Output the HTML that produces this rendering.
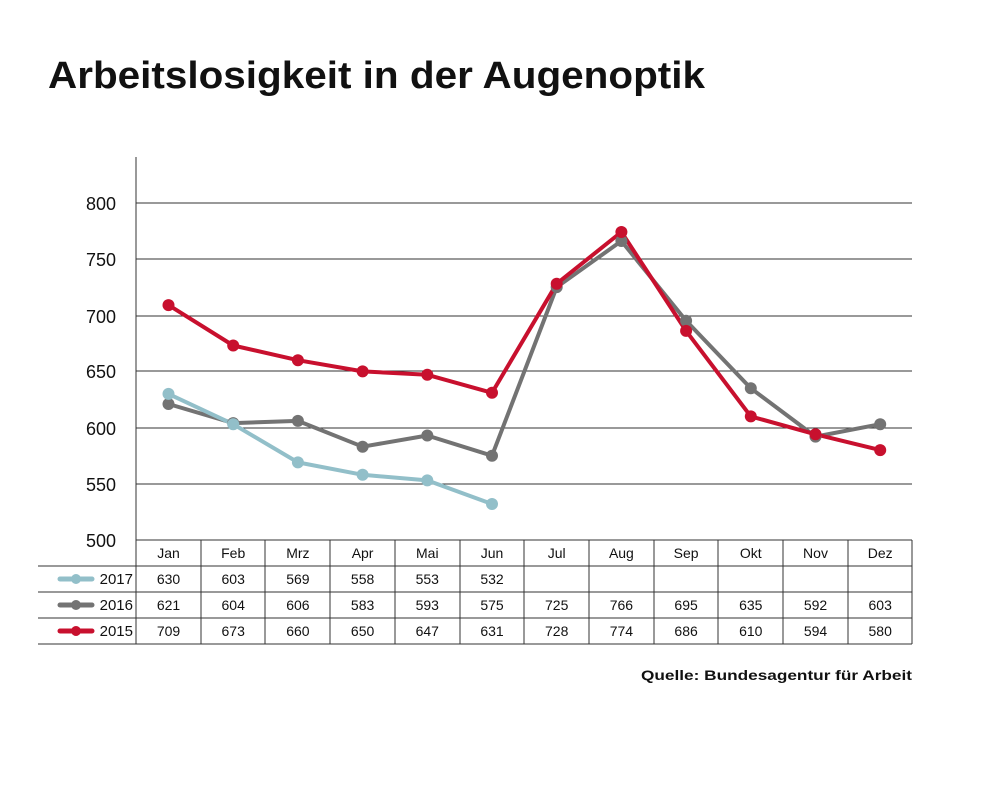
<!DOCTYPE html>
<html><head><meta charset="utf-8"><style>
body{margin:0;background:#fff;width:992px;height:794px;overflow:hidden}
svg{font-family:"Liberation Sans",sans-serif}
</style></head><body>
<svg width="992" height="794" viewBox="0 0 992 794">
<text x="48" y="88" font-size="38" font-weight="bold" fill="#111" textLength="657" lengthAdjust="spacingAndGlyphs">Arbeitslosigkeit in der Augenoptik</text>
<g stroke="#333" stroke-width="1">
<line x1="136" y1="203" x2="912" y2="203"/><line x1="136" y1="259" x2="912" y2="259"/>
<line x1="136" y1="316" x2="912" y2="316"/><line x1="136" y1="371" x2="912" y2="371"/>
<line x1="136" y1="428" x2="912" y2="428"/><line x1="136" y1="484" x2="912" y2="484"/>
<line x1="136" y1="540" x2="912" y2="540"/>
<line x1="38" y1="566" x2="912" y2="566"/><line x1="38" y1="592" x2="912" y2="592"/>
<line x1="38" y1="618" x2="912" y2="618"/><line x1="38" y1="644" x2="912" y2="644"/>
<line x1="136" y1="157" x2="136" y2="644"/>
<line x1="201" y1="540" x2="201" y2="644"/><line x1="265" y1="540" x2="265" y2="644"/>
<line x1="330" y1="540" x2="330" y2="644"/><line x1="395" y1="540" x2="395" y2="644"/>
<line x1="460" y1="540" x2="460" y2="644"/><line x1="524" y1="540" x2="524" y2="644"/>
<line x1="589" y1="540" x2="589" y2="644"/><line x1="654" y1="540" x2="654" y2="644"/>
<line x1="718" y1="540" x2="718" y2="644"/><line x1="783" y1="540" x2="783" y2="644"/>
<line x1="848" y1="540" x2="848" y2="644"/><line x1="912" y1="540" x2="912" y2="644"/>
</g>
<g font-size="18" fill="#111" text-anchor="end">
<text x="116" y="210">800</text><text x="116" y="266">750</text><text x="116" y="323">700</text>
<text x="116" y="378">650</text><text x="116" y="435">600</text><text x="116" y="491">550</text>
<text x="116" y="547">500</text>
</g>
<g font-size="14" fill="#111" text-anchor="middle">
<text x="168.5" y="558">Jan</text><text x="233.2" y="558">Feb</text><text x="297.9" y="558">Mrz</text>
<text x="362.6" y="558">Apr</text><text x="427.3" y="558">Mai</text><text x="492" y="558">Jun</text>
<text x="556.7" y="558">Jul</text><text x="621.4" y="558">Aug</text><text x="686.1" y="558">Sep</text>
<text x="750.8" y="558">Okt</text><text x="815.5" y="558">Nov</text><text x="880.2" y="558">Dez</text>
<text x="168.5" y="584">630</text><text x="233.2" y="584">603</text><text x="297.9" y="584">569</text>
<text x="362.6" y="584">558</text><text x="427.3" y="584">553</text><text x="492" y="584">532</text>
<text x="168.5" y="610">621</text><text x="233.2" y="610">604</text><text x="297.9" y="610">606</text>
<text x="362.6" y="610">583</text><text x="427.3" y="610">593</text><text x="492" y="610">575</text>
<text x="556.7" y="610">725</text><text x="621.4" y="610">766</text><text x="686.1" y="610">695</text>
<text x="750.8" y="610">635</text><text x="815.5" y="610">592</text><text x="880.2" y="610">603</text>
<text x="168.5" y="636">709</text><text x="233.2" y="636">673</text><text x="297.9" y="636">660</text>
<text x="362.6" y="636">650</text><text x="427.3" y="636">647</text><text x="492" y="636">631</text>
<text x="556.7" y="636">728</text><text x="621.4" y="636">774</text><text x="686.1" y="636">686</text>
<text x="750.8" y="636">610</text><text x="815.5" y="636">594</text><text x="880.2" y="636">580</text>
</g>
<g font-size="15" fill="#111" text-anchor="end">
<text x="133" y="584">2017</text><text x="133" y="610">2016</text><text x="133" y="636">2015</text>
</g>
<g stroke-width="5" stroke-linecap="round">
<line x1="60" y1="579" x2="92" y2="579" stroke="#92bfc9"/><circle cx="76" cy="579" r="5" fill="#92bfc9"/>
<line x1="60" y1="605" x2="92" y2="605" stroke="#737373"/><circle cx="76" cy="605" r="5" fill="#737373"/>
<line x1="60" y1="631" x2="92" y2="631" stroke="#c8102e"/><circle cx="76" cy="631" r="5" fill="#c8102e"/>
</g>
<g fill="none" stroke-width="4" stroke-linejoin="round">
<polyline stroke="#737373" points="168.5,404 233.2,423.1 297.9,420.9 362.6,446.7 427.3,435.5 492,455.7 556.7,287.1 621.4,241 686.1,320.8 750.8,388.3 815.5,436.6 880.2,424.2"/>
<polyline stroke="#c8102e" points="168.5,305.1 233.2,345.5 297.9,360.2 362.6,371.4 427.3,374.8 492,392.8 556.7,283.7 621.4,232 686.1,330.9 750.8,416.4 815.5,434.3 880.2,450.1"/>
<polyline stroke="#92bfc9" points="168.5,393.9 233.2,424.2 297.9,462.4 362.6,474.8 427.3,480.4 492,504"/>
</g>
<g fill="#737373">
<circle cx="168.5" cy="404" r="6"/><circle cx="233.2" cy="423.1" r="6"/><circle cx="297.9" cy="420.9" r="6"/><circle cx="362.6" cy="446.7" r="6"/><circle cx="427.3" cy="435.5" r="6"/><circle cx="492" cy="455.7" r="6"/><circle cx="556.7" cy="287.1" r="6"/><circle cx="621.4" cy="241" r="6"/><circle cx="686.1" cy="320.8" r="6"/><circle cx="750.8" cy="388.3" r="6"/><circle cx="815.5" cy="436.6" r="6"/><circle cx="880.2" cy="424.2" r="6"/>
</g>
<g fill="#c8102e">
<circle cx="168.5" cy="305.1" r="6"/><circle cx="233.2" cy="345.5" r="6"/><circle cx="297.9" cy="360.2" r="6"/><circle cx="362.6" cy="371.4" r="6"/><circle cx="427.3" cy="374.8" r="6"/><circle cx="492" cy="392.8" r="6"/><circle cx="556.7" cy="283.7" r="6"/><circle cx="621.4" cy="232" r="6"/><circle cx="686.1" cy="330.9" r="6"/><circle cx="750.8" cy="416.4" r="6"/><circle cx="815.5" cy="434.3" r="6"/><circle cx="880.2" cy="450.1" r="6"/>
</g>
<g fill="#92bfc9">
<circle cx="168.5" cy="393.9" r="6"/><circle cx="233.2" cy="424.2" r="6"/><circle cx="297.9" cy="462.4" r="6"/><circle cx="362.6" cy="474.8" r="6"/><circle cx="427.3" cy="480.4" r="6"/><circle cx="492" cy="504" r="6"/>
</g>
<text x="641" y="680" font-size="14" font-weight="bold" fill="#111" textLength="271" lengthAdjust="spacingAndGlyphs">Quelle: Bundesagentur für Arbeit</text>
</svg>
</body></html>
